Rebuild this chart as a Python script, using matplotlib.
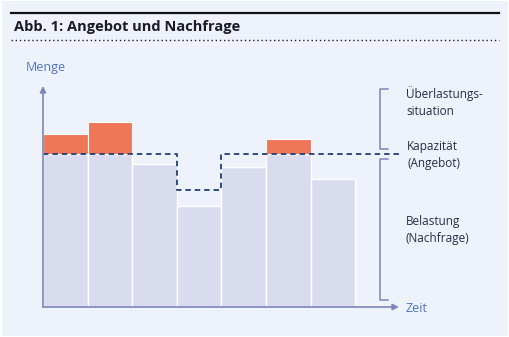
import matplotlib
matplotlib.use("Agg")
import matplotlib.pyplot as plt
from matplotlib.lines import Line2D
from matplotlib.patches import Rectangle

plt.rcParams['font.family'] = ['Open Sans', 'DejaVu Sans']

# =====================================================================================================================

TITLE = "Abb. 1: Angebot und Nachfrage"
belastung = [153, 153, 143, 101, 140, 153, 128]      # demand per period
ueberlast = [20, 32, 0, 0, 0, 15, 0]                 # overload above capacity
kapazitaet = [153, 153, 153, 117, 153, 153, 153]      # capacity per period
labels_right = ["Überlastungs-\nsituation", "Kapazität\n(Angebot)", "Belastung\n(Nachfrage)"]

BG = "#EEF2FA"
LAVENDER = "#D9DCEF"
ORANGE = "#EE7759"
NAVY = "#1F3F7A"
AXIS = "#7C86B8"
BLUE_TXT = "#4F74BC"
DARK_TXT = "#2A2C44"

W, H = 510, 337


def fx(px):
    return px / W


def fy(py):
    return 1 - py / H


# =====================================================================================================================

fig = plt.figure(figsize=(W / 100, H / 100), dpi=100)
fig.patch.set_facecolor("white")
fig.add_artist(Rectangle((fx(2), fy(336)), fx(506), 335 / H, transform=fig.transFigure,
                         facecolor=BG, edgecolor="none", zorder=0))

# header
fig.add_artist(Line2D([fx(11), fx(499)], [fy(13), fy(13)], color="#111111", lw=1.6))
fig.text(fx(14), fy(31), TITLE, fontsize=10.5, fontweight="bold", color="#1a1a28", va="baseline")
fig.add_artist(Line2D([fx(11), fx(499)], [fy(40), fy(40)], color="#222222", lw=1.0,
                      linestyle=(0, (1, 2))))

# chart area
ax = fig.add_axes([fx(43), fy(307), fx(399) - fx(43), (307 - 86) / H])
ax.set_facecolor("none")
ax.set_xlim(0, 7.98)
ax.set_ylim(0, 221)
ax.axis("off")

x = [i + 0.5 for i in range(len(belastung))]
ax.bar(x, belastung, width=1, color=LAVENDER, edgecolor="white", linewidth=1, zorder=2)
ax.bar(x, ueberlast, width=1, bottom=belastung, color=ORANGE, edgecolor="white", linewidth=0.8, zorder=2)

# capacity step line
edges = list(range(len(kapazitaet) + 1)) + [7.98]
ax.step(edges, kapazitaet + [kapazitaet[-1], kapazitaet[-1]], where="post",
        color=NAVY, lw=1.3, linestyle=(0, (3, 2.2)), zorder=3)

# axes arrows
arrow = dict(arrowstyle="-|>", color=AXIS, lw=1.2, mutation_scale=9, shrinkA=0, shrinkB=0)
ax.annotate("", xy=(0, 221), xytext=(0, 0), arrowprops=arrow, annotation_clip=False, zorder=4)
ax.annotate("", xy=(7.98, 0), xytext=(0, 0), arrowprops=arrow, annotation_clip=False, zorder=4)

# brackets
bx, bt = 7.56, 7.73
for top, bottom in [(218, 158), (148, 7)]:
    ax.plot([bt, bx, bx, bt], [top, top, bottom, bottom], color=AXIS, lw=1.1, clip_on=False)

# labels
fig.text(fx(26), fy(68), "Menge", color=BLUE_TXT, fontsize=9, va="center")
fig.text(fx(406), fy(308), "Zeit", color=BLUE_TXT, fontsize=9, va="center")
for (px, py), lab in zip([(406, 102), (407, 155), (406, 230)], labels_right):
    fig.text(fx(px), fy(py), lab, color=DARK_TXT, fontsize=8.5, va="center", linespacing=1.45)

fig.savefig("out.png", dpi=100, facecolor=fig.get_facecolor())
